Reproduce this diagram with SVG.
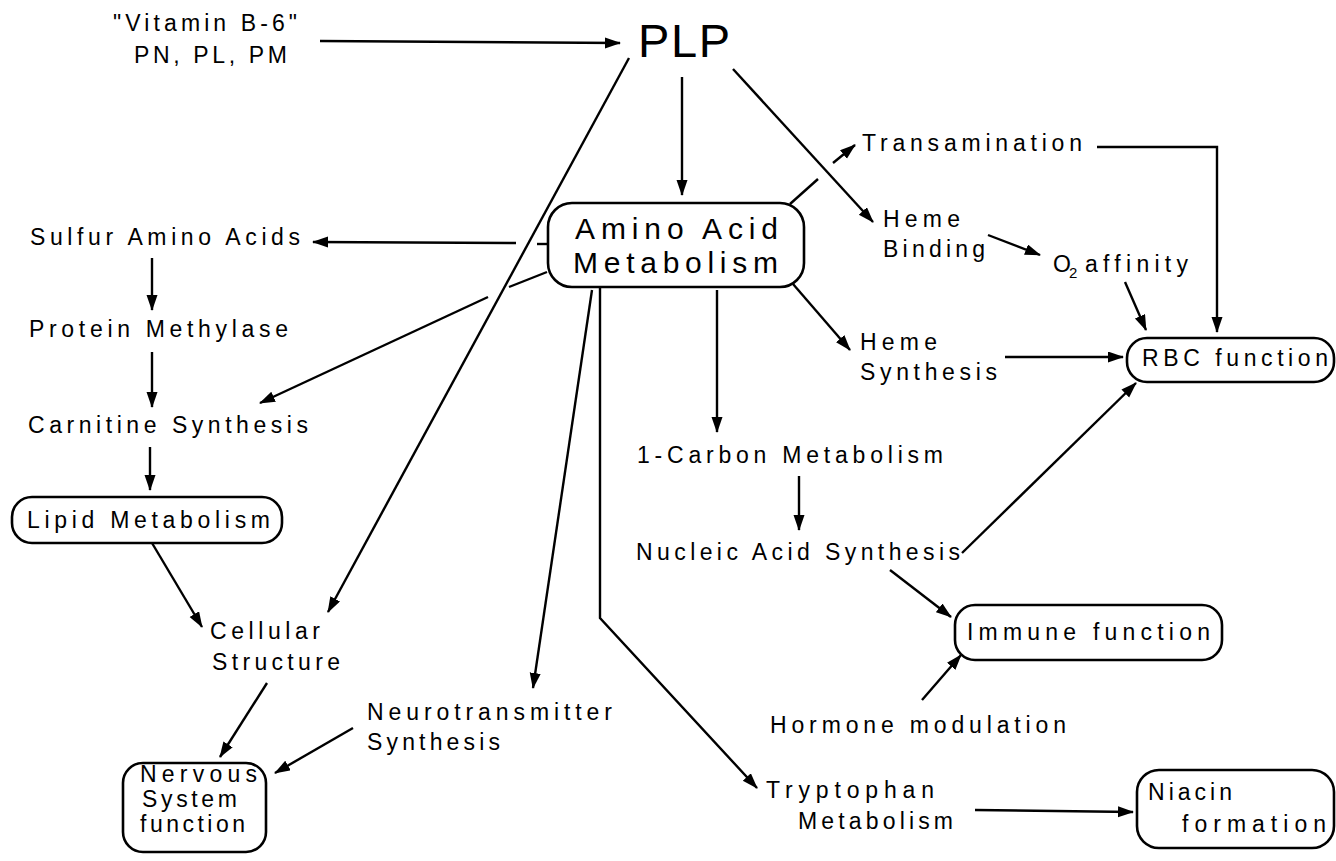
<svg xmlns="http://www.w3.org/2000/svg" width="1336" height="861" viewBox="0 0 1336 861">
<defs>
<marker id="ah" markerUnits="userSpaceOnUse" markerWidth="16" markerHeight="12" refX="15" refY="5.5" orient="auto">
<path d="M0,0 L16,5.5 L0,11 Z" fill="#000"/>
</marker>
<style>
text{font-family:"Liberation Sans",Arial,sans-serif;font-size:23px;fill:#000}
.big{font-size:30px}
.plp{font-size:47px}
.box{fill:#fff;stroke:#000;stroke-width:2.6}
.c line,.c polyline{stroke:#000;stroke-width:2.4;fill:none}
.a{marker-end:url(#ah)}
</style>
</defs>
<rect width="1336" height="861" fill="#fff"/>

<g id="connectors" class="c">
<line class="a" x1="320" y1="41" x2="620" y2="43"/>
<line class="a" x1="682" y1="77" x2="682" y2="195"/>
<line class="a" x1="629" y1="58" x2="328" y2="612"/>
<line class="a" x1="733" y1="69" x2="873" y2="222"/>
<line x1="790" y1="204" x2="818" y2="179"/>
<line class="a" x1="833" y1="163" x2="855" y2="145"/>
<line x1="548" y1="244" x2="537" y2="244"/>
<line class="a" x1="516" y1="243" x2="313" y2="242"/>
<line x1="547" y1="272" x2="509" y2="287"/>
<line class="a" x1="488" y1="297" x2="260" y2="403"/>
<line class="a" x1="592" y1="290" x2="533" y2="688"/>
<polyline class="a" points="600,287 600,618 757,788"/>
<line class="a" x1="717" y1="290" x2="717" y2="432"/>
<line class="a" x1="793" y1="284" x2="850" y2="350"/>
<polyline class="a" points="1097,147 1217,147 1217,332"/>
<line class="a" x1="988" y1="235" x2="1040" y2="255"/>
<line class="a" x1="1125" y1="282" x2="1146" y2="330"/>
<line class="a" x1="1005" y1="357" x2="1123" y2="357"/>
<line class="a" x1="962" y1="553" x2="1136" y2="383"/>
<line class="a" x1="799" y1="476" x2="799" y2="530"/>
<line class="a" x1="890" y1="570" x2="951" y2="617"/>
<line class="a" x1="922" y1="700" x2="961" y2="655"/>
<line class="a" x1="975" y1="810" x2="1133" y2="812"/>
<line class="a" x1="152" y1="258" x2="152" y2="310"/>
<line class="a" x1="152" y1="352" x2="152" y2="407"/>
<line class="a" x1="150" y1="447" x2="150" y2="490"/>
<line class="a" x1="152" y1="543" x2="202" y2="627"/>
<line class="a" x1="267" y1="683" x2="220" y2="757"/>
<line class="a" x1="353" y1="728" x2="275" y2="773"/>
</g>

<g id="vitamin">
<text x="113" y="31" textLength="184" lengthAdjust="spacing">"Vitamin B-6"</text>
<text x="134" y="63" textLength="153" lengthAdjust="spacing">PN, PL, PM</text>
</g>
<g id="plp"><text class="plp" x="638" y="57" textLength="92" lengthAdjust="spacing">PLP</text></g>
<g id="amino">
<rect class="box" x="548" y="203" width="256" height="84" rx="24"/>
<text class="big" x="575" y="239" textLength="203" lengthAdjust="spacing">Amino Acid</text>
<text class="big" x="573" y="273" textLength="205" lengthAdjust="spacing">Metabolism</text>
</g>
<g id="transamination"><text x="862" y="151" textLength="220" lengthAdjust="spacing">Transamination</text></g>
<g id="heme-binding">
<text x="883" y="227" textLength="77" lengthAdjust="spacing">Heme</text>
<text x="883" y="257" textLength="102" lengthAdjust="spacing">Binding</text>
</g>
<g id="o2">
<text x="1053" y="272">O</text>
<text x="1069" y="278" style="font-size:15px">2</text>
<text x="1085" y="272" textLength="103" lengthAdjust="spacing">affinity</text>
</g>
<g id="heme-synthesis">
<text x="860" y="350" textLength="77" lengthAdjust="spacing">Heme</text>
<text x="860" y="380" textLength="137" lengthAdjust="spacing">Synthesis</text>
</g>
<g id="rbc">
<rect class="box" x="1127" y="338" width="207" height="44" rx="20"/>
<text x="1142" y="366" textLength="186" lengthAdjust="spacing">RBC function</text>
</g>
<g id="sulfur"><text x="30" y="245" textLength="270" lengthAdjust="spacing">Sulfur Amino Acids</text></g>
<g id="protein"><text x="29" y="337" textLength="259" lengthAdjust="spacing">Protein Methylase</text></g>
<g id="carnitine"><text x="28" y="433" textLength="280" lengthAdjust="spacing">Carnitine Synthesis</text></g>
<g id="lipid">
<rect class="box" x="12" y="497" width="270" height="46" rx="20"/>
<text x="27" y="528" textLength="243" lengthAdjust="spacing">Lipid Metabolism</text>
</g>
<g id="cellular">
<text x="210" y="639" textLength="110" lengthAdjust="spacing">Cellular</text>
<text x="212" y="670" textLength="128" lengthAdjust="spacing">Structure</text>
</g>
<g id="neurotransmitter">
<text x="367" y="720" textLength="245" lengthAdjust="spacing">Neurotransmitter</text>
<text x="367" y="750" textLength="133" lengthAdjust="spacing">Synthesis</text>
</g>
<g id="nervous">
<rect class="box" x="123" y="763" width="143" height="89" rx="20"/>
<text x="140" y="782" textLength="117" lengthAdjust="spacing">Nervous</text>
<text x="142" y="807" textLength="95" lengthAdjust="spacing">System</text>
<text x="140" y="832" textLength="105" lengthAdjust="spacing">function</text>
</g>
<g id="one-carbon"><text x="637" y="463" textLength="306" lengthAdjust="spacing">1-Carbon Metabolism</text></g>
<g id="nucleic"><text x="636" y="560" textLength="324" lengthAdjust="spacing">Nucleic Acid Synthesis</text></g>
<g id="immune">
<rect class="box" x="955" y="605" width="267" height="55" rx="20"/>
<text x="967" y="640" textLength="243" lengthAdjust="spacing">Immune function</text>
</g>
<g id="hormone"><text x="770" y="733" textLength="296" lengthAdjust="spacing">Hormone modulation</text></g>
<g id="tryptophan">
<text x="766" y="798" textLength="168" lengthAdjust="spacing">Tryptophan</text>
<text x="798" y="829" textLength="155" lengthAdjust="spacing">Metabolism</text>
</g>
<g id="niacin">
<rect class="box" x="1137" y="770" width="197" height="78" rx="22"/>
<text x="1148" y="800" textLength="84" lengthAdjust="spacing">Niacin</text>
<text x="1182" y="832" textLength="144" lengthAdjust="spacing">formation</text>
</g>
</svg>
